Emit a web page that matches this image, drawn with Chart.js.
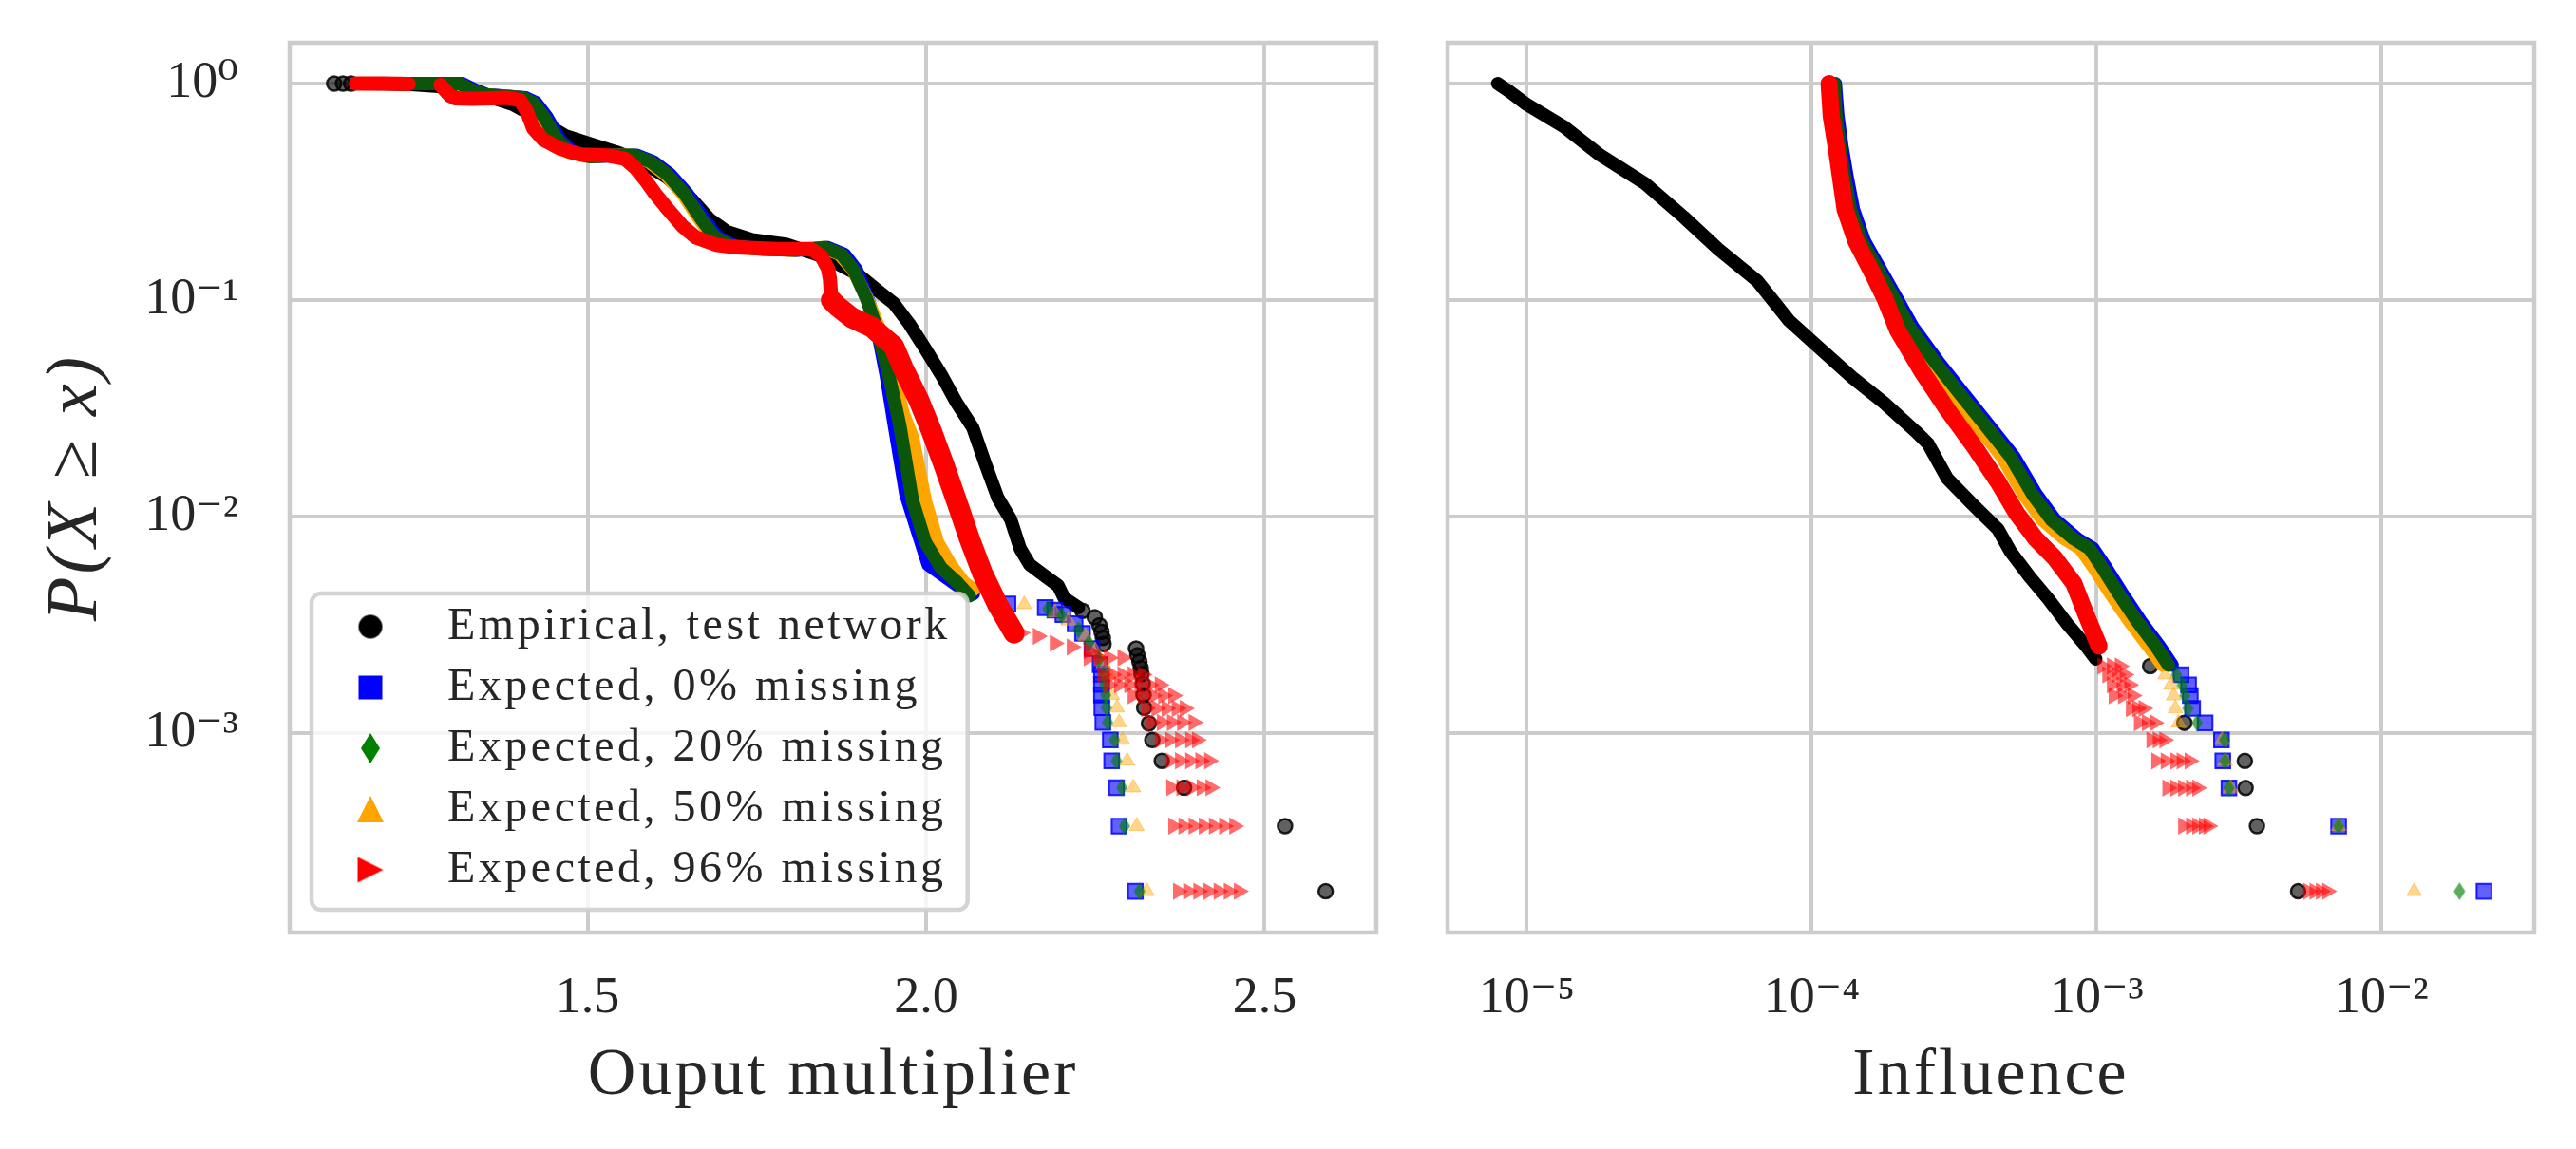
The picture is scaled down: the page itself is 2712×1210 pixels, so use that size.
<!DOCTYPE html>
<html lang="en">
<head>
<meta charset="UTF-8">
<title>P(X ≥ x) for output multiplier and influence</title>
<script src="https://cdn.jsdelivr.net/npm/chart.js"></script>
<style>
    body { margin: 0; background: #ffffff; }
    #wrap { position: relative; width: 2712px; height: 1210px; }
    #wrap canvas { position: absolute; top: 0; }
    #left { left: 0; }
    #right { left: 1486px; }
</style>
</head>
<body>
<div id="wrap">
    <canvas id="left" width="1486" height="1210"></canvas>
    <canvas id="right" width="1226" height="1210"></canvas>
</div>
<script>
// ---------- values ----------
const SERIES_LABELS = ['Empirical, test network', 'Expected, 0% missing', 'Expected, 20% missing',
                       'Expected, 50% missing', 'Expected, 96% missing'];

const Y_TICKS = [1e-3, 1e-2, 1e-1, 1];
const Y_TICK_LABELS = ['10⁻³', '10⁻²', '10⁻¹', '10⁰'];
const Y_MIN = 1.2e-4, Y_MAX = 1.544;

const OUT_X_TICKS = [1.5, 2.0, 2.5];
const OUT_X_TICK_LABELS = ['1.5', '2.0', '2.5'];
const OUT_X_MIN = 1.0603, OUT_X_MAX = 2.6648;

const INF_X_TICKS = [1e-5, 1e-4, 1e-3, 1e-2];
const INF_X_TICK_LABELS = ['10⁻⁵', '10⁻⁴', '10⁻³', '10⁻²'];
const INF_X_MIN = 5.27e-6, INF_X_MAX = 0.0343;

// left panel: output multiplier, [x, P(X>=x)]
const OUT_EMP_BAND = [[1.165,1.0],[1.20,0.997],[1.24,0.99],[1.28,0.97],[1.32,0.92],[1.355,0.87],[1.39,0.80],
    [1.417,0.72],[1.442,0.64],[1.467,0.575],[1.505,0.526],[1.543,0.483],[1.58,0.436],[1.618,0.368],[1.655,0.29],
    [1.68,0.237],[1.706,0.207],[1.743,0.19],[1.793,0.181],[1.837,0.163],[1.868,0.148],[1.90,0.131],[1.931,0.109],
    [1.952,0.0967],[1.975,0.0778],[1.999,0.0594],[2.022,0.0454],[2.045,0.0336],[2.069,0.0257],[2.087,0.0177],
    [2.106,0.0122],[2.125,0.0097],[2.139,0.0071],[2.153,0.006],[2.176,0.0053],[2.195,0.0048],[2.204,0.0042],[2.225,0.0038]];
const OUT_EMP_PTS = [[1.126,1.0],[1.139,1.0],[1.151,1.0],
    [2.231,0.00367],[2.249,0.00343],[2.256,0.00315],[2.259,0.00294],[2.261,0.00275],[2.262,0.00258],
    [2.310,0.00246],[2.312,0.00229],[2.315,0.00214],[2.317,0.0020],[2.318,0.00187],[2.320,0.00169],[2.321,0.0015],
    [2.322,0.00131],[2.329,0.00111],[2.334,0.00093],[2.348,0.000745],[2.381,0.00056],[2.530,0.000372],[2.590,0.000186]];

const OUT_EXP0_BAND = [[1.162,1.0],[1.217,1.0],[1.273,1.0],[1.315,1.0],[1.334,0.934],[1.352,0.888],[1.384,0.873],
    [1.409,0.859],[1.424,0.816],[1.44,0.701],[1.459,0.553],[1.478,0.483],[1.509,0.459],[1.547,0.467],[1.572,0.467],
    [1.597,0.436],[1.622,0.381],[1.647,0.311],[1.672,0.237],[1.691,0.197],[1.716,0.178],[1.76,0.172],[1.81,0.17],
    [1.854,0.175],[1.879,0.163],[1.897,0.138],[1.914,0.1016],[1.928,0.0725],[1.941,0.045],[1.953,0.0265],
    [1.97,0.0127],[1.985,0.009],[2.003,0.006],[2.027,0.0053],[2.055,0.0046],[2.07,0.0044]];
const OUT_EXP0_PTS = [[2.121,0.00395],[2.176,0.0038],[2.19,0.0037],[2.202,0.00353],[2.22,0.0032],[2.231,0.00289],
    [2.245,0.00246],[2.257,0.00207],[2.259,0.00187],[2.259,0.00168],[2.259,0.0015],[2.2595,0.00131],[2.261,0.00112],
    [2.272,0.00093],[2.274,0.000745],[2.281,0.00056],[2.285,0.000372],[2.309,0.000186]];

const OUT_EXP20_BAND = [[1.162,1.0],[1.217,1.0],[1.273,1.0],[1.311,1.0],[1.33,0.934],[1.348,0.888],[1.38,0.873],
    [1.405,0.859],[1.42,0.816],[1.436,0.701],[1.455,0.553],[1.474,0.483],[1.505,0.459],[1.543,0.467],[1.568,0.467],
    [1.593,0.436],[1.618,0.381],[1.643,0.311],[1.668,0.237],[1.687,0.197],[1.712,0.178],[1.756,0.172],[1.806,0.17],
    [1.85,0.175],[1.875,0.163],[1.893,0.138],[1.912,0.1016],[1.928,0.0725],[1.945,0.045],[1.961,0.0265],
    [1.98,0.0118],[1.999,0.0076],[2.022,0.0058],[2.045,0.005],[2.064,0.0043]];
const OUT_EXP20_PTS = [[2.18,0.00375],[2.20,0.0035],[2.225,0.003],[2.24,0.0026],[2.255,0.0022],[2.262,0.00187],
    [2.264,0.00168],[2.265,0.0015],[2.266,0.00131],[2.268,0.00112],[2.278,0.00093],[2.281,0.000745],[2.289,0.00056],
    [2.293,0.000372],[2.315,0.000186]];

const OUT_EXP50_BAND = [[1.162,1.0],[1.217,1.0],[1.273,1.0],[1.308,1.0],[1.327,0.934],[1.345,0.888],[1.377,0.873],
    [1.402,0.859],[1.417,0.816],[1.433,0.701],[1.452,0.553],[1.471,0.483],[1.502,0.459],[1.54,0.467],[1.565,0.467],
    [1.59,0.436],[1.615,0.381],[1.64,0.311],[1.665,0.237],[1.684,0.197],[1.709,0.178],[1.753,0.172],[1.803,0.17],
    [1.847,0.175],[1.872,0.163],[1.892,0.138],[1.913,0.1016],[1.932,0.0725],[1.952,0.045],[1.966,0.03],
    [1.98,0.0232],[1.999,0.0118],[2.017,0.0076],[2.036,0.006],[2.055,0.005],[2.07,0.0046]];
const OUT_EXP50_PTS = [[2.145,0.00393],[2.19,0.0036],[2.21,0.0033],[2.235,0.0028],[2.25,0.0024],[2.262,0.0021],
    [2.27,0.00187],[2.275,0.0015],[2.282,0.00131],[2.285,0.00112],[2.29,0.00093],[2.297,0.000745],[2.306,0.00056],
    [2.311,0.000372],[2.326,0.000186]];

const OUT_EXP96_BAND = [[1.158,1.0],[1.20,1.0],[1.236,0.995],[1.25,null],[1.283,0.985],[1.29,0.93],[1.297,0.88],
    [1.305,0.855],[1.33,0.85],[1.36,0.855],[1.38,0.86],[1.40,0.84],[1.41,0.75],[1.42,0.62],[1.435,0.55],[1.46,0.50],
    [1.49,0.47],[1.53,0.465],[1.555,0.45],[1.57,0.41],[1.585,0.36],[1.60,0.31],[1.62,0.26],[1.64,0.22],[1.66,0.195],
    [1.69,0.18],[1.72,0.175],[1.78,0.172],[1.83,0.172],[1.845,0.16],[1.855,0.14],[1.858,0.125],[1.86,0.10],
    [1.87,0.093],[1.89,0.083],[1.92,0.075],[1.94,0.066],[1.952,0.0614],[1.966,0.0485],[1.989,0.0347],[2.008,0.0248],
    [2.027,0.0171],[2.045,0.0118],[2.064,0.0079],[2.083,0.0055],[2.106,0.0039],[2.13,0.0029]];
const OUT_EXP96_PTS = [[2.14,0.0029],[2.165,0.0028],[2.19,0.0026],[2.215,0.0025],[2.24,0.0024],
    [2.24,0.00223],[2.255,0.00223],[2.27,0.00223],[2.29,0.00223],
    [2.26,0.00186],[2.275,0.00186],[2.29,0.00186],[2.305,0.00186],[2.32,0.00186],
    [2.27,0.00167],[2.285,0.00167],[2.30,0.00167],[2.315,0.00167],[2.33,0.00167],[2.345,0.00167],
    [2.305,0.00149],[2.32,0.00149],[2.335,0.00149],[2.35,0.00149],[2.365,0.00149],
    [2.325,0.0013],[2.34,0.0013],[2.355,0.0013],[2.37,0.0013],[2.382,0.0013],
    [2.333,0.00112],[2.348,0.00112],[2.363,0.00112],[2.378,0.00112],[2.395,0.00112],
    [2.345,0.00093],[2.36,0.00093],[2.375,0.00093],[2.39,0.00093],[2.40,0.00093],
    [2.36,0.000745],[2.375,0.000745],[2.39,0.000745],[2.405,0.000745],[2.418,0.000745],
    [2.362,0.00056],[2.377,0.00056],[2.392,0.00056],[2.407,0.00056],[2.42,0.00056],
    [2.365,0.000372],[2.38,0.000372],[2.395,0.000372],[2.41,0.000372],[2.425,0.000372],[2.44,0.000372],[2.455,0.000372],
    [2.372,0.000186],[2.387,0.000186],[2.402,0.000186],[2.417,0.000186],[2.432,0.000186],[2.447,0.000186],[2.462,0.000186]];

// right panel: influence, [x, P(X>=x)]
const INF_EMP_BAND = [[7.9e-6,1.0],[8.7e-6,0.918],[1.0e-5,0.8],[1.35e-5,0.632],[1.81e-5,0.467],[2.61e-5,0.344],
    [3.55e-5,0.242],[4.7e-5,0.172],[6.44e-5,0.1225],[8.32e-5,0.0804],[1.074e-4,0.0594],[1.387e-4,0.0439],
    [1.79e-4,0.0336],[2.31e-4,0.0248],[2.56e-4,0.0217],[2.99e-4,0.015],[3.66e-4,0.01143],[4.5e-4,0.00875],
    [4.98e-4,0.0069],[5.81e-4,0.00528],[6.76e-4,0.00417],[7.89e-4,0.00319],[9.18e-4,0.00252],[9.93e-4,0.0022]];
const INF_EMP_PTS = [[1.54e-3,2.04e-3],[2.03e-3,1.116e-3],[3.31e-3,7.44e-4],[3.33e-3,5.58e-4],[3.65e-3,3.72e-4],
    [5.09e-3,1.86e-4]];

const INF_EXP0_BAND = [[1.21e-4,1.0],[1.235e-4,0.708],[1.275e-4,0.516],[1.33e-4,0.372],[1.4e-4,0.262],
    [1.53e-4,0.187],[1.77e-4,0.1334],[1.99e-4,0.1016],[2.26e-4,0.0752],[2.78e-4,0.0519],[3.4e-4,0.0371],
    [4.18e-4,0.0265],[5.13e-4,0.0189],[6.14e-4,0.01265],[7.14e-4,0.00966],[8.55e-4,0.0079],[9.7e-4,0.00714],
    [1.076e-3,0.00583],[1.222e-3,0.00447],[1.425e-3,0.0033],[1.66e-3,0.00252],[1.84e-3,0.00206]];
const INF_EXP0_PTS = [[1.977e-3,1.86e-3],[2.1e-3,1.67e-3],[2.13e-3,1.49e-3],[2.17e-3,1.3e-3],[2.4e-3,1.116e-3],
    [2.74e-3,9.3e-4],[2.77e-3,7.44e-4],[2.91e-3,5.58e-4],[7.06e-3,3.72e-4],[2.286e-2,1.86e-4]];

const INF_EXP20_BAND = [[1.2e-4,1.0],[1.216e-4,0.708],[1.253e-4,0.516],[1.303e-4,0.372],[1.368e-4,0.262],
    [1.496e-4,0.187],[1.73e-4,0.1334],[1.945e-4,0.1016],[2.198e-4,0.0752],[2.7e-4,0.0519],[3.3e-4,0.0371],
    [4.06e-4,0.0265],[4.98e-4,0.0189],[5.96e-4,0.01265],[6.93e-4,0.00966],[8.3e-4,0.0079],[9.42e-4,0.00714],
    [1.045e-3,0.00583],[1.186e-3,0.00447],[1.384e-3,0.0033],[1.614e-3,0.00252],[1.786e-3,0.00206]];
const INF_EXP20_PTS = [[1.905e-3,1.86e-3],[1.995e-3,1.67e-3],[2.04e-3,1.49e-3],[2.09e-3,1.3e-3],[2.25e-3,1.116e-3],
    [2.81e-3,9.3e-4],[2.82e-3,7.44e-4],[2.91e-3,5.58e-4],[7.06e-3,3.72e-4],[1.875e-2,1.86e-4]];

const INF_EXP50_BAND = [[1.19e-4,1.0],[1.205e-4,0.708],[1.24e-4,0.516],[1.285e-4,0.372],[1.345e-4,0.262],
    [1.46e-4,0.187],[1.68e-4,0.1334],[1.88e-4,0.1016],[2.12e-4,0.0752],[2.6e-4,0.0519],[3.15e-4,0.0371],
    [3.8e-4,0.0265],[4.65e-4,0.0189],[5.55e-4,0.01265],[6.45e-4,0.00966],[7.7e-4,0.0079],[8.75e-4,0.00714],
    [9.75e-4,0.00583],[1.11e-3,0.00447],[1.3e-3,0.0033],[1.52e-3,0.00252],[1.7e-3,0.00206]];
const INF_EXP50_PTS = [[1.738e-3,1.86e-3],[1.82e-3,1.67e-3],[1.862e-3,1.49e-3],[1.888e-3,1.3e-3],[1.936e-3,1.116e-3],
    [2.754e-3,9.3e-4],[2.825e-3,7.44e-4],[2.95e-3,5.58e-4],[7.06e-3,3.72e-4],[1.3e-2,1.86e-4]];

const INF_EXP96_BAND = [[1.15e-4,1.0],[1.17e-4,0.708],[1.216e-4,0.516],[1.26e-4,0.372],[1.309e-4,0.262],
    [1.429e-4,0.187],[1.633e-4,0.1334],[1.807e-4,0.1016],[2.0e-4,0.0726],[2.43e-4,0.047],[2.985e-4,0.0313],
    [3.66e-4,0.0217],[4.5e-4,0.0145],[5.24e-4,0.01035],[6.11e-4,0.0079],[7.11e-4,0.00646],[8.3e-4,0.00493],
    [9.18e-4,0.00352],[1.019e-3,0.00252]];
const INF_EXP96_PTS = [[1.047e-3,2.04e-3],[1.13e-3,2.04e-3],[1.205e-3,2.04e-3],
    [1.089e-3,1.86e-3],[1.175e-3,1.86e-3],[1.253e-3,1.86e-3],
    [1.13e-3,1.67e-3],[1.222e-3,1.67e-3],[1.3e-3,1.67e-3],
    [1.146e-3,1.49e-3],[1.236e-3,1.49e-3],[1.337e-3,1.49e-3],
    [1.318e-3,1.3e-3],[1.387e-3,1.3e-3],[1.459e-3,1.3e-3],
    [1.406e-3,1.116e-3],[1.5e-3,1.116e-3],[1.596e-3,1.116e-3],
    [1.556e-3,9.3e-4],[1.637e-3,9.3e-4],[1.726e-3,9.3e-4],
    [1.618e-3,7.44e-4],[1.746e-3,7.44e-4],[1.888e-3,7.44e-4],[1.986e-3,7.44e-4],[2.118e-3,7.44e-4],
    [1.77e-3,5.58e-4],[1.888e-3,5.58e-4],[2.01e-3,5.58e-4],[2.143e-3,5.58e-4],[2.254e-3,5.58e-4],
    [2.01e-3,3.72e-4],[2.143e-3,3.72e-4],[2.254e-3,3.72e-4],[2.377e-3,3.72e-4],[2.466e-3,3.72e-4],
    [5.52e-3,1.86e-4],[5.81e-3,1.86e-4],[6.12e-3,1.86e-4],[6.44e-3,1.86e-4]];

// ---------- styling ----------
const SERIF = "'Liberation Serif', 'DejaVu Serif', serif";
const INK = '#262626';
const GRID = '#cccccc';
const COLORS = ['#000000', '#0000ff', '#008000', '#ffa500', '#ff0000'];
const BAND_COLORS = ['#000000', '#0000ff', '#0b560b', '#ffa500', '#ff0000'];

function markerCanvas(shape, color, w, h, shiftX) {
    const pad = 2;
    const c = document.createElement('canvas');
    c.width = Math.ceil(w + 2 * Math.abs(shiftX) + 2 * pad);
    c.height = Math.ceil(h + 2 * pad);
    const g = c.getContext('2d');
    const cx = c.width / 2 + shiftX, cy = c.height / 2;
    g.fillStyle = color;
    g.beginPath();
    if (shape === 'circle') g.ellipse(cx, cy, w / 2, h / 2, 0, 0, Math.PI * 2);
    else if (shape === 'square') g.rect(cx - w / 2, cy - h / 2, w, h);
    else if (shape === 'diamond') {
        g.moveTo(cx, cy - h / 2); g.lineTo(cx + w / 2, cy); g.lineTo(cx, cy + h / 2); g.lineTo(cx - w / 2, cy);
    } else if (shape === 'up') {
        g.moveTo(cx, cy - h / 2); g.lineTo(cx + w / 2, cy + h / 2); g.lineTo(cx - w / 2, cy + h / 2);
    } else if (shape === 'right') {
        g.moveTo(cx + w / 2, cy); g.lineTo(cx - w / 2, cy + h / 2); g.lineTo(cx - w / 2, cy - h / 2);
    }
    g.closePath();
    g.fill();
    return c;
}

const LEGEND_MARKERS = [
    markerCanvas('circle', COLORS[0], 25, 25, -33),
    markerCanvas('square', COLORS[1], 25, 25, -33),
    markerCanvas('diamond', COLORS[2], 20, 32, -33),
    markerCanvas('up', COLORS[3], 28, 28, -33),
    markerCanvas('right', COLORS[4], 27, 27, -33)
];

const MARKS = [
    { pointStyle: 'circle', pointRadius: 7.5, backgroundColor: 'rgba(0,0,0,0.62)', borderColor: 'rgba(0,0,0,0.85)', borderWidth: 2.5 },
    { pointStyle: 'rect', pointRadius: 11, backgroundColor: 'rgba(0,0,255,0.62)', borderColor: 'rgba(0,0,255,0.85)', borderWidth: 2 },
    { pointStyle: markerCanvas('diamond', 'rgba(0,128,0,0.65)', 12, 19, 0), pointRadius: 10 },
    { pointStyle: 'triangle', pointRadius: 9, backgroundColor: 'rgba(255,165,0,0.45)', borderColor: 'rgba(255,165,0,0.45)', borderWidth: 1 },
    { pointStyle: 'triangle', pointRotation: 90, pointRadius: 10.5, backgroundColor: 'rgba(255,0,0,0.58)', borderColor: 'rgba(255,0,0,0)', borderWidth: 0 }
];
// lower order is drawn on top: black, blue, orange, green, red
const ORDER = [50, 40, 20, 30, 10];

function pts(arr) {
    return arr.map(p => ({ x: p[0], y: p[1] }));
}

function band(i, data, width, segment) {
    const ds = {
        data: pts(data), showLine: true, borderColor: BAND_COLORS[i], backgroundColor: BAND_COLORS[i],
        borderWidth: width, pointRadius: 0, pointHoverRadius: 0, pointHitRadius: 0,
        borderCapStyle: 'round', borderJoinStyle: 'round', tension: 0, spanGaps: false, order: ORDER[i] + 1
    };
    if (segment) ds.segment = segment;
    return ds;
}

function marks(i, data) {
    return Object.assign({ label: SERIES_LABELS[i], data: pts(data), showLine: false, order: ORDER[i] }, MARKS[i]);
}

const framePlugin = {
    id: 'frame',
    beforeDatasetsDraw(chart) {
        const { ctx, chartArea: a } = chart;
        ctx.save();
        ctx.strokeStyle = GRID;
        ctx.lineWidth = 4.5;
        ctx.strokeRect(a.left, a.top, a.right - a.left, a.bottom - a.top);
        ctx.restore();
    }
};

// wider letter spacing on axis titles to get closer to the LaTeX look
function spaced(fn, px) {
    return function (...args) {
        const c = this.ctx;
        const old = c.letterSpacing;
        c.letterSpacing = px;
        fn.apply(this, args);
        c.letterSpacing = old;
    };
}
const titleSpacingPlugin = {
    id: 'titleSpacing',
    afterLayout(chart) {
        Object.values(chart.scales).forEach(s => {
            if (!s._spaced) {
                s.drawTitle = spaced(s.drawTitle, '3px');
                s._spaced = true;
            }
        });
    }
};

// legend inside the plot, bottom left, on a rounded white box drawn over the data
const LEG_FONT = 48, LEG_PAD = 16;
function drawLegendFrame(chart) {
    const lg = chart.legend, a = chart.chartArea, ctx = chart.ctx;
    ctx.save();
    ctx.font = LEG_FONT + 'px ' + SERIF;
    ctx.letterSpacing = '3.5px';
    let maxW = 0;
    lg.legendItems.forEach(it => { maxW = Math.max(maxW, ctx.measureText(it.text).width); });
    const textX = lg.left + LEG_PAD + LEG_FONT + LEG_FONT / 2;
    const x0 = a.left + 23, x1 = textX + maxW + 18, y0 = a.bottom - 357, y1 = a.bottom - 24, r = 10;
    ctx.beginPath();
    ctx.moveTo(x0 + r, y0);
    ctx.lineTo(x1 - r, y0); ctx.arcTo(x1, y0, x1, y0 + r, r);
    ctx.lineTo(x1, y1 - r); ctx.arcTo(x1, y1, x1 - r, y1, r);
    ctx.lineTo(x0 + r, y1); ctx.arcTo(x0, y1, x0, y1 - r, r);
    ctx.lineTo(x0, y0 + r); ctx.arcTo(x0, y0, x0 + r, y0, r);
    ctx.closePath();
    ctx.fillStyle = 'rgba(255,255,255,0.8)';
    ctx.fill();
    ctx.strokeStyle = 'rgba(204,204,204,0.85)';
    ctx.lineWidth = 4.5;
    ctx.stroke();
    ctx.restore();
}
const legendBoxPlugin = {
    id: 'legendBox',
    beforeLayout(chart) {
        const lg = chart.legend;
        if (!lg || lg._boxed) return;
        lg._boxed = true;
        lg._layers = () => [{
            z: 1,
            draw: (area) => {
                drawLegendFrame(chart);
                const c = chart.ctx;
                c.save();
                c.letterSpacing = '3.5px';
                // draw without the legend's own clip so the shifted markers stay whole
                if (typeof lg._draw === 'function') lg._draw(); else lg.draw(area);
                c.restore();
            }
        }];
    },
    afterLayout(chart) {
        const lg = chart.legend, a = chart.chartArea;
        lg.left = a.left + 78;
        lg.top = a.top;
        lg.right = a.right;
        lg.bottom = a.bottom - 26;
    }
};

function fixedTicks(values) {
    return s => { s.ticks = values.map(v => ({ value: v })); };
}

function xAxis(type, min, max, ticks, labels, title) {
    return {
        type, min, max,
        afterBuildTicks: fixedTicks(ticks),
        afterFit: s => { s.height = 228; s.paddingLeft = 0; s.paddingRight = 0; },
        ticks: { callback: (v, i) => labels[i], font: { family: SERIF, size: 54 }, color: INK, padding: 37,
                 maxRotation: 0, autoSkip: false },
        grid: { color: GRID, lineWidth: 4, drawTicks: false },
        border: { display: false },
        title: { display: true, text: title, font: { family: SERIF, size: 70 }, color: INK,
                 padding: { top: 0, bottom: 34 } }
    };
}

function yAxis(width, showLabels) {
    return {
        type: 'logarithmic', min: Y_MIN, max: Y_MAX,
        afterBuildTicks: fixedTicks(Y_TICKS),
        afterFit: s => { s.width = width; s.paddingTop = 0; s.paddingBottom = 0; },
        ticks: { display: showLabels, callback: (v, i) => Y_TICK_LABELS[i], font: { family: SERIF, size: 54 },
                 color: INK, padding: 54, autoSkip: false },
        grid: { color: GRID, lineWidth: 4, drawTicks: false },
        border: { display: false },
        title: { display: showLabels, text: 'P(X ≥ x)', font: { family: SERIF, size: 76, style: 'italic' },
                 color: INK, padding: { top: 35, bottom: 0 } }
    };
}

const common = { responsive: false, animation: false, devicePixelRatio: 1, events: [] };

new Chart(document.getElementById('left'), {
    type: 'scatter',
    data: {
        datasets: [
            marks(0, OUT_EMP_PTS), marks(1, OUT_EXP0_PTS), marks(2, OUT_EXP20_PTS),
            marks(3, OUT_EXP50_PTS), marks(4, OUT_EXP96_PTS),
            band(0, OUT_EMP_BAND, 14), band(1, OUT_EXP0_BAND, 14), band(2, OUT_EXP20_BAND, 14),
            band(3, OUT_EXP50_BAND, 14),
            band(4, OUT_EXP96_BAND, 15, { borderWidth: c => (c.p0.parsed.x >= 1.86 ? 22 : 15) })
        ]
    },
    options: Object.assign({}, common, {
        layout: { padding: { left: 0, top: 45, right: 37, bottom: 0 } },
        scales: {
            x: xAxis('linear', OUT_X_MIN, OUT_X_MAX, OUT_X_TICKS, OUT_X_TICK_LABELS, 'Ouput multiplier'),
            y: yAxis(305, true)
        },
        plugins: {
            tooltip: { enabled: false },
            legend: {
                display: true, position: 'chartArea', align: 'end',
                labels: {
                    usePointStyle: true, boxWidth: LEG_FONT, boxHeight: LEG_FONT, padding: LEG_PAD, color: INK,
                    font: { family: SERIF, size: LEG_FONT },
                    generateLabels: chart => SERIES_LABELS.map((text, i) => ({
                        text, datasetIndex: i, pointStyle: LEGEND_MARKERS[i], rotation: 0, hidden: false,
                        fillStyle: COLORS[i], strokeStyle: COLORS[i], lineWidth: 0, fontColor: INK
                    }))
                }
            }
        }
    }),
    plugins: [framePlugin, titleSpacingPlugin, legendBoxPlugin]
});

new Chart(document.getElementById('right'), {
    type: 'scatter',
    data: {
        datasets: [
            marks(0, INF_EMP_PTS), marks(1, INF_EXP0_PTS), marks(2, INF_EXP20_PTS),
            marks(3, INF_EXP50_PTS), marks(4, INF_EXP96_PTS),
            band(0, INF_EMP_BAND, 14), band(1, INF_EXP0_BAND, 14), band(2, INF_EXP20_BAND, 14),
            band(3, INF_EXP50_BAND, 14), band(4, INF_EXP96_BAND, 18)
        ]
    },
    options: Object.assign({}, common, {
        layout: { padding: { left: 0, top: 45, right: 44, bottom: 0 } },
        scales: {
            x: xAxis('logarithmic', INF_X_MIN, INF_X_MAX, INF_X_TICKS, INF_X_TICK_LABELS, 'Influence'),
            y: yAxis(38, false)
        },
        plugins: { tooltip: { enabled: false }, legend: { display: false } }
    }),
    plugins: [framePlugin, titleSpacingPlugin]
});
</script>
</body>
</html>
